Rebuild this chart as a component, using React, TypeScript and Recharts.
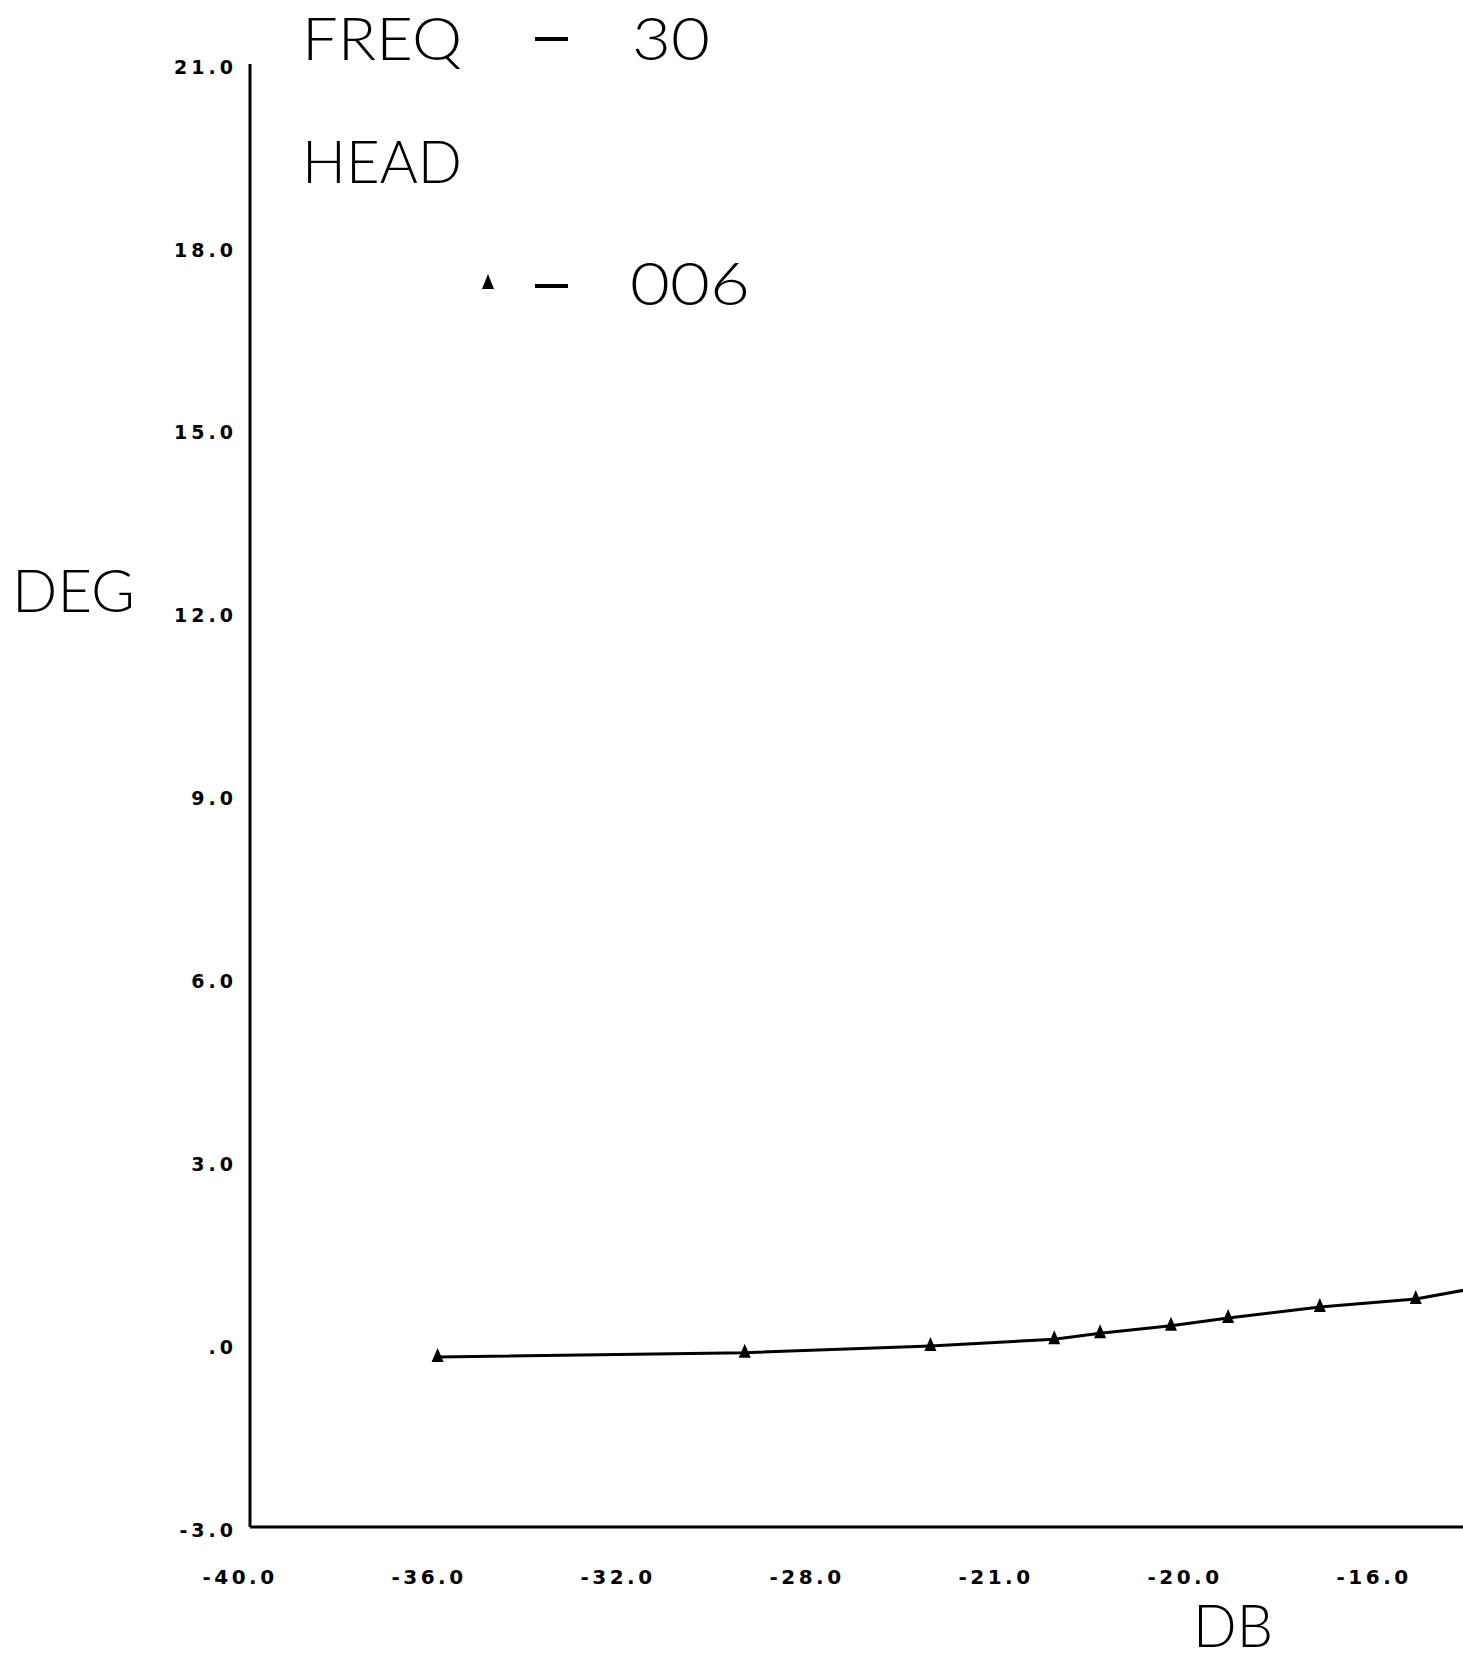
import { LineChart, Line, XAxis, YAxis, Legend } from 'recharts';

// readings taken off the plotter sheet (last point sits just past the cropped edge)
const dbValues = [-36.03, -29.53, -25.6, -22.98, -22.01, -20.51, -19.3, -17.36, -15.33, -13.0];
const degValues = [-0.21, -0.14, -0.03, 0.08, 0.18, 0.3, 0.43, 0.61, 0.74, 1.07];

const xTicks = [-40, -36, -32, -28, -24, -20, -16];
const xTickLabels = ['-40.0', '-36.0', '-32.0', '-28.0', '-21.0', '-20.0', '-16.0'];
const yTicks = [-3, 0, 3, 6, 9, 12, 15, 18, 21];
const yTickLabels = ['-3.0', '.0', '3.0', '6.0', '9.0', '12.0', '15.0', '18.0', '21.0'];

const seriesName = '006';

const data = dbValues.map((db, i) => ({ db, deg: degValues[i] }));

const W = 1463;
const H = 1659;
const titleFont = "Lato, 'DejaVu Sans', sans-serif";
const tickFont = "'DejaVu Sans', sans-serif";

const TriangleDot = (props: any) => {
  const { cx, cy, index } = props;
  if (cx == null || cy == null) return <g key={`d-${index}`} />;
  return (
    <polygon
      key={`d-${index}`}
      points={`${cx},${cy - 9} ${cx - 6},${cy + 5} ${cx + 6},${cy + 5}`}
      fill="#000"
    />
  );
};

const renderLegend = (props: any) => {
  const item = props.payload && props.payload[0];
  return (
    <svg width={320} height={90} style={{ display: 'block', overflow: 'visible' }}>
      <polygon points="10,26 4,41 16,41" fill="#000" />
      <line x1={57} y1={38} x2={90} y2={38} stroke="#000" strokeWidth={4} />
      <text
        x={152}
        y={57}
        fontFamily={titleFont}
        fontWeight={300}
        fontSize={60}
        textLength={120}
        lengthAdjust="spacingAndGlyphs"
        fill="#000"
      >
        {item ? item.value : seriesName}
      </text>
    </svg>
  );
};

export default function App() {
  return (
    <div
      style={{
        position: 'absolute',
        left: 0,
        top: 0,
        width: W,
        height: H,
        overflow: 'hidden',
        background: '#fff',
      }}
    >
      <LineChart width={W} height={H} data={data} margin={{ top: 64, right: 0, bottom: 0, left: 0 }}>
        <XAxis
          type="number"
          dataKey="db"
          domain={[-40, -14.33]}
          allowDataOverflow
          ticks={xTicks}
          tickFormatter={(v: number) => xTickLabels[xTicks.indexOf(v)] ?? String(v)}
          height={132}
          axisLine={{ stroke: '#000', strokeWidth: 3 }}
          tickLine={false}
          tickSize={0}
          tickMargin={43}
          tick={{
            fill: '#000',
            fontFamily: tickFont,
            fontWeight: 700,
            fontSize: 20,
            letterSpacing: 3.5,
            dx: -10,
          }}
        />
        <YAxis
          type="number"
          domain={[-3, 21]}
          ticks={yTicks}
          tickFormatter={(v: number) => yTickLabels[yTicks.indexOf(v)] ?? String(v)}
          width={250}
          axisLine={{ stroke: '#000', strokeWidth: 3 }}
          tickLine={false}
          tickSize={0}
          tickMargin={13}
          tick={{
            fill: '#000',
            fontFamily: tickFont,
            fontWeight: 700,
            fontSize: 19,
            letterSpacing: 4,
            dy: 3,
          }}
        />
        <Legend
          layout="horizontal"
          verticalAlign="middle"
          align="center"
          wrapperStyle={{ left: 478, top: 248, width: 320, height: 90 }}
          content={renderLegend}
        />
        <Line
          type="linear"
          dataKey="deg"
          name={seriesName}
          stroke="#000"
          strokeWidth={3}
          dot={TriangleDot}
          activeDot={false}
          isAnimationActive={false}
        />
      </LineChart>
      <svg
        width={W}
        height={H}
        style={{ position: 'absolute', left: 0, top: 0, pointerEvents: 'none' }}
      >
        <g fontFamily={titleFont} fontWeight={300} fontSize={60} fill="#000">
          <text x={302} y={60} textLength={160} lengthAdjust="spacingAndGlyphs">FREQ</text>
          <text x={632} y={60} textLength={78} lengthAdjust="spacingAndGlyphs">30</text>
          <text x={302} y={183} textLength={160} lengthAdjust="spacingAndGlyphs">HEAD</text>
          <text x={12} y={612} textLength={123} lengthAdjust="spacingAndGlyphs">DEG</text>
          <text x={1193} y={1647} textLength={80} lengthAdjust="spacingAndGlyphs">DB</text>
        </g>
        <line x1={535} y1={39} x2={568} y2={39} stroke="#000" strokeWidth={4} />
      </svg>
    </div>
  );
}
